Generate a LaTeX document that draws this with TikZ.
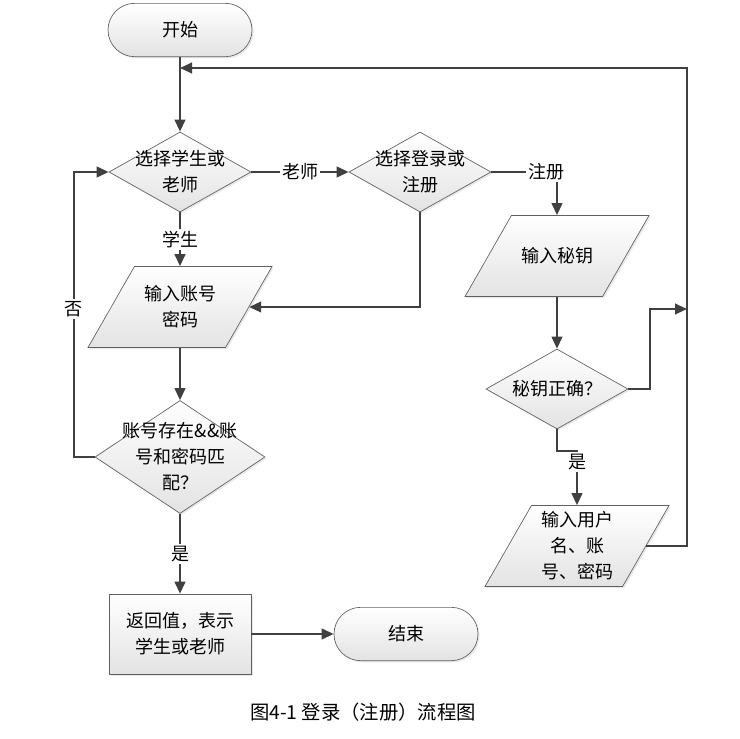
\documentclass[tikz,border=0pt]{standalone}
\usepackage{fontspec}
\setmainfont{Noto Sans CJK SC}
\usetikzlibrary{shapes.geometric,arrows.meta,shadows}
\newcommand{\flowfont}{\fontsize{13.5}{19.5}\selectfont}
\begin{document}
\begin{tikzpicture}[x=0.75pt,y=-0.75pt,
  base/.style={draw=gray!75!black, line width=0.5pt, top color=white, bottom color=gray!22,
    drop shadow={shadow xshift=1.2pt, shadow yshift=-1.2pt, fill=gray!35}},
  term/.style={base, rectangle, rounded corners=20pt, minimum width=108pt, minimum height=40pt, font=\flowfont},
  proc/.style={base, rectangle, minimum width=106.5pt, minimum height=60pt, align=center, font=\flowfont},
  decide/.style={base, diamond, inner sep=0pt, minimum width=106.5pt, minimum height=60pt},
  io/.style={base, trapezium, trapezium left angle=63, trapezium right angle=117, trapezium stretches=true,
    inner sep=1pt, minimum width=138pt, minimum height=60.75pt},
  txt/.style={align=center, inner sep=0pt, font=\flowfont},
  lbl/.style={fill=white, inner sep=1.5pt, font=\flowfont},
  flow/.style={draw=black!75, line width=1.5pt, -{Triangle[length=9pt,width=8pt]}}]
  \useasboundingbox (0,0) rectangle (740,739);
  \node[term] (start) at (180,30) {开始};
  \node[decide] (role) at (180,172) {};
  \node[txt] (roleT) at (role) {选择学生或\\老师};
  \node[decide] (mode) at (420,172) {};
  \node[txt] (modeT) at (mode) {选择登录或\\注册};
  \node[io] (login) at (180,307) {};
  \node[txt] (loginT) at (login) {输入账号\\密码};
  \node[decide, minimum width=127.5pt, minimum height=84.75pt] (check) at (180,457) {};
  \node[txt] (checkT) at (check) {账号存在\&\&账\\号和密码匹\\配？};
  \node[proc] (ret) at (180,634) {返回值，表示\\学生或老师};
  \node[term] (stop) at (406,634) {结束};
  \node[io] (key) at (557,256) {};
  \node[txt] (keyT) at (key) {输入秘钥};
  \node[decide] (keyok) at (557,389) {};
  \node[txt] (keyokT) at (keyok) {秘钥正确？};
  \node[io] (user) at (577,546) {};
  \node[txt] (userT) at (user) {输入用户\\名、账\\号、密码};
  \coordinate (rtop) at (687,68);
  \coordinate (rmid) at (687,309);
  \coordinate (ltop) at (180,68);
  \draw[flow] (start) -- (role);
  \draw[flow] (role) -- node[lbl]{老师} (mode);
  \draw[flow] (mode.east) -| node[lbl,pos=0.42]{注册} (key.north);
  \draw[flow] (role) -- node[lbl]{学生} (login);
  \draw[flow] (mode.south) |- (login.east);
  \draw[flow] (login) -- (check);
  \draw[flow] (check.west) -- ++(-21,0) |- node[lbl,pos=0.26]{否} (role.west);
  \draw[flow] (check) -- node[lbl]{是} (ret);
  \draw[flow] (ret) -- (stop);
  \draw[flow] (key) -- (keyok);
  \draw[flow] (keyok.east) -- ++(22,0) |- (rmid);
  \draw[flow] (keyok.south) -- ++(0,22) -| node[lbl,pos=0.6]{是} (user.north);
  \draw[flow] (user.east) -| (rtop) -- (ltop);
  \node[font=\fontsize{14.5}{17}\selectfont] (cap) at (363,712) {图4-1 登录（注册）流程图};
\end{tikzpicture}
\end{document}
